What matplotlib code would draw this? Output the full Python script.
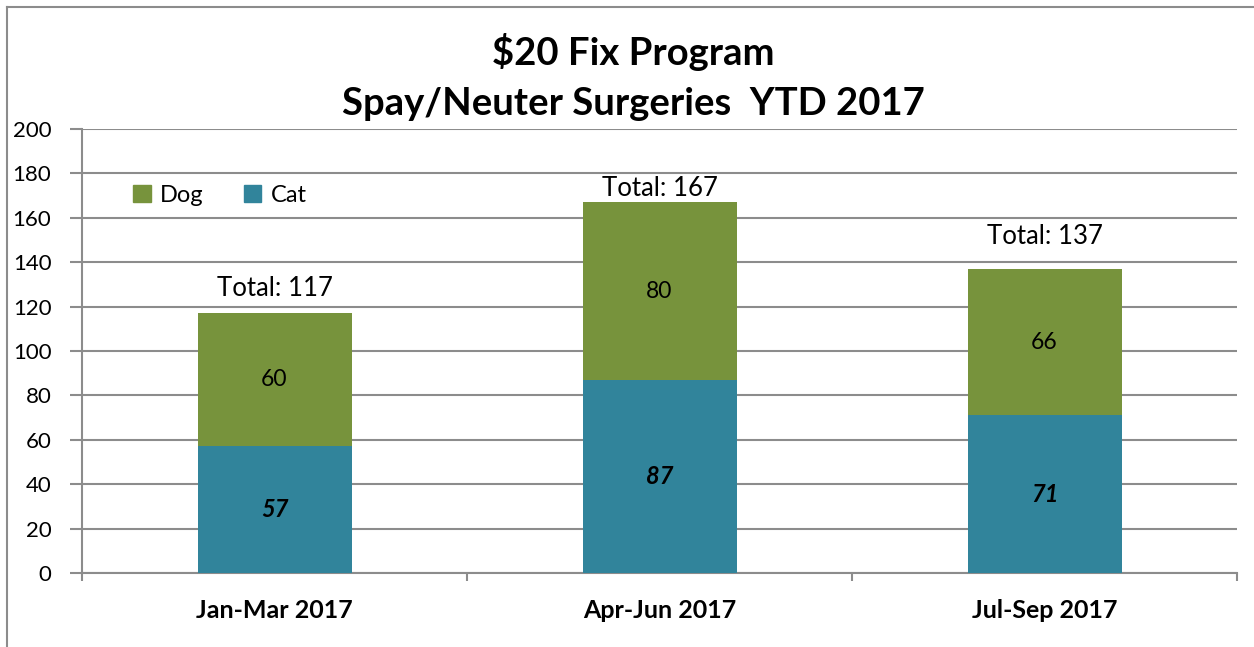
import numpy as np
import matplotlib.pyplot as plt
from matplotlib.lines import Line2D

# data
quarters = ['Jan-Mar 2017', 'Apr-Jun 2017', 'Jul-Sep 2017']
cat = np.array([57, 87, 71])
dog = np.array([60, 80, 66])
total = cat + dog

# layout tweaks for the total labels (data units above bar top)
total_offset = [11, 6, 14.5]

col_dog = '#77933C'
col_cat = '#31849B'
col_grid = '#8C8C8C'

plt.rcParams['font.family'] = ['Lato', 'DejaVu Sans']

fig = plt.figure(figsize=(12.54, 6.47), dpi=100)
ax = fig.add_axes([82/1254, 1 - 573/647, (1237 - 82)/1254, (573 - 129)/647])

x = np.arange(len(quarters))
ax.bar(x, cat, width=0.4, color=col_cat, zorder=3)
ax.bar(x, dog, width=0.4, bottom=cat, color=col_dog, zorder=3)

for i in range(len(x)):
    ax.text(x[i], cat[i]/2, str(cat[i]), ha='center', va='center',
            fontsize=17, fontweight='bold', fontstyle='italic', zorder=4)
    ax.text(x[i], cat[i] + dog[i]/2, str(dog[i]), ha='center', va='center',
            fontsize=16.5, zorder=4)
    ax.text(x[i], total[i] + total_offset[i], f'Total: {total[i]}', ha='center',
            va='center', fontsize=18.5, zorder=4)

ax.set_xlim(-0.5, 2.5)
ax.set_ylim(0, 200)
ax.set_yticks(np.arange(0, 201, 20))
ax.yaxis.grid(True, color=col_grid, linewidth=1.5, zorder=0)
ax.set_xticks(x)
ax.set_xticklabels(quarters, fontsize=18, fontweight='bold')
ax.set_xticks([-0.5, 0.5, 1.5, 2.5], minor=True)
ax.tick_params(axis='x', which='major', length=0, pad=19)
ax.tick_params(axis='x', which='minor', length=6, width=1.5, color=col_grid, direction='out')
ax.tick_params(axis='y', length=9, width=1.5, color=col_grid, labelsize=16, pad=13)
for s in ['top', 'right']:
    ax.spines[s].set_visible(False)
for s in ['left', 'bottom']:
    ax.spines[s].set_color(col_grid)
    ax.spines[s].set_linewidth(1.5)

handles = [plt.Rectangle((0, 0), 1, 1, color=col_dog), plt.Rectangle((0, 0), 1, 1, color=col_cat)]
ax.legend(handles, ['Dog', 'Cat'], loc='center left', bbox_to_anchor=(0.044, 0.851), ncol=2,
          frameon=False, fontsize=17, handlelength=0.75, handleheight=0.75,
          handletextpad=0.4, columnspacing=1.7, borderaxespad=0, borderpad=0)

fig.text(633/1254, 1 - 52/647, '$20 Fix Program', ha='center', va='center',
         fontsize=27.5, fontweight='bold')
fig.text(633/1254, 1 - 104/647, 'Spay/Neuter Surgeries  YTD 2017', ha='center', va='center',
         fontsize=27.5, fontweight='bold')

# chart frame
fig.add_artist(Line2D([7/1254, 1], [1 - 7/647, 1 - 7/647], color=col_grid, linewidth=1.5))
fig.add_artist(Line2D([7/1254, 7/1254], [0, 1 - 7/647], color=col_grid, linewidth=1.5))

fig.savefig('out.png', dpi=100)
